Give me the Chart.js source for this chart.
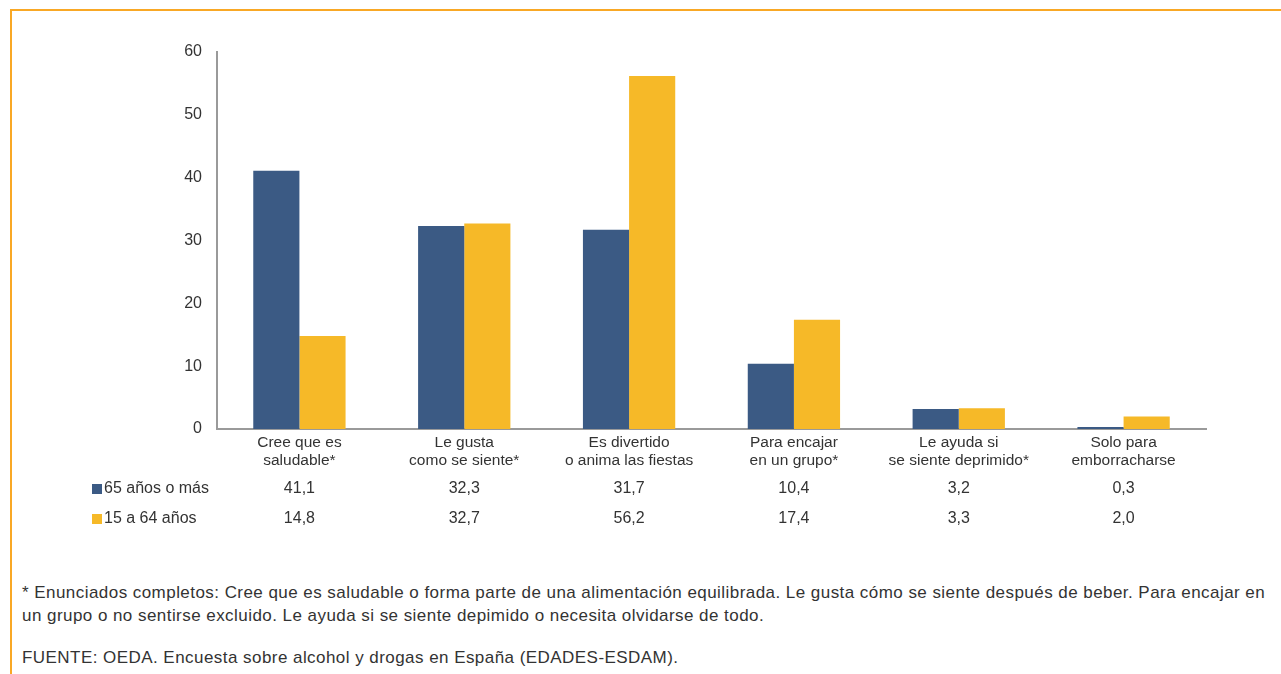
<!DOCTYPE html>
<html>
<head>
<meta charset="utf-8">
<script src="https://cdn.jsdelivr.net/npm/chart.js@4.4.1/dist/chart.umd.min.js"></script>
<style>
  html, body { margin: 0; padding: 0; background: #fff; }
  body { width: 1281px; height: 674px; position: relative; overflow: hidden; font-family: "Liberation Sans", Arial, sans-serif; }
  .frame { position: absolute; left: 10px; top: 9px; width: 1290px; height: 700px; border-top: 2px solid #f9a825; border-left: 2px solid #f9a825; }
  #wrap { position: absolute; left: 0; top: 0; width: 1281px; height: 540px; }
  .note { position: absolute; left: 22px; color: #333; font-size: 17px; letter-spacing: 0.45px; line-height: 23px; width: 1258px; }
</style>
</head>
<body>
<div class="frame"></div>
<div id="wrap"><canvas id="chart"></canvas></div>
<div class="note" style="top:581px;">* Enunciados completos: Cree que es saludable o forma parte de una alimentación equilibrada. Le gusta cómo se siente después de beber. Para encajar en un grupo o no sentirse excluido. Le ayuda si se siente depimido o necesita olvidarse de todo.</div>
<div class="note" style="top:646px;">FUENTE: OEDA. Encuesta sobre alcohol y drogas en España (EDADES-ESDAM).</div>
<script>
const categories = [
  ['Cree que es', 'saludable*'],
  ['Le gusta', 'como se siente*'],
  ['Es divertido', 'o anima las fiestas'],
  ['Para encajar', 'en un grupo*'],
  ['Le ayuda si', 'se siente deprimido*'],
  ['Solo para', 'emborracharse'],
];
const seriesNames = ['65 años o más', '15 a 64 años'];
const older = [41.1, 32.3, 31.7, 10.4, 3.2, 0.3];
const younger = [14.8, 32.7, 56.2, 17.4, 3.3, 2.0];
const yTicks = [0, 10, 20, 30, 40, 50, 60];

const BLUE = '#3b5a84';
const YELLOW = '#f6b928';
const TEXT = '#333333';
const FONT = '"Liberation Sans", Arial, sans-serif';

const fmt = (v) => v.toFixed(1).replace('.', ',');

// table of values under the axis, aligned with the category centres
const dataTable = {
  id: 'dataTable',
  afterDraw(chart) {
    const ctx = chart.ctx;
    const xs = chart.scales.x;
    const rows = [
      { name: seriesNames[0], color: BLUE, values: older, y: 489 },
      { name: seriesNames[1], color: YELLOW, values: younger, y: 519 },
    ];
    ctx.save();
    ctx.font = '16px ' + FONT;
    ctx.textBaseline = 'middle';
    rows.forEach((r) => {
      ctx.fillStyle = r.color;
      ctx.fillRect(92, r.y - 5, 10, 10);
      ctx.fillStyle = TEXT;
      ctx.textAlign = 'left';
      ctx.fillText(r.name, 104, r.y);
      ctx.textAlign = 'center';
      r.values.forEach((v, i) => {
        ctx.fillText(fmt(v), xs.getPixelForValue(i), r.y);
      });
    });
    ctx.restore();
  },
};

new Chart(document.getElementById('chart'), {
  type: 'bar',
  data: {
    labels: categories,
    datasets: [
      { label: seriesNames[0], data: older, backgroundColor: BLUE, categoryPercentage: 0.56, barPercentage: 1.0 },
      { label: seriesNames[1], data: younger, backgroundColor: YELLOW, categoryPercentage: 0.56, barPercentage: 1.0 },
    ],
  },
  options: {
    responsive: true,
    maintainAspectRatio: false,
    animation: false,
    layout: { padding: { top: 52, right: 75, left: 0, bottom: 0 } },
    plugins: {
      legend: { display: false },
      tooltip: { enabled: false },
    },
    scales: {
      x: {
        grid: { display: false, drawTicks: false },
        border: { color: '#9a9a9a', width: 2 },
        ticks: { color: TEXT, font: { family: FONT, size: 15.5 }, padding: 4, maxRotation: 0, autoSkip: false },
        afterFit: (s) => { s.height = 111; },
      },
      y: {
        min: 0,
        max: 60,
        afterBuildTicks: (s) => { s.ticks = yTicks.map((v) => ({ value: v })); },
        grid: { display: false, drawTicks: false },
        border: { color: '#9a9a9a', width: 2 },
        ticks: { color: TEXT, font: { family: FONT, size: 16 }, padding: 15 },
        afterFit: (s) => { s.width = 217; },
      },
    },
  },
  plugins: [dataTable],
});
</script>
</body>
</html>
